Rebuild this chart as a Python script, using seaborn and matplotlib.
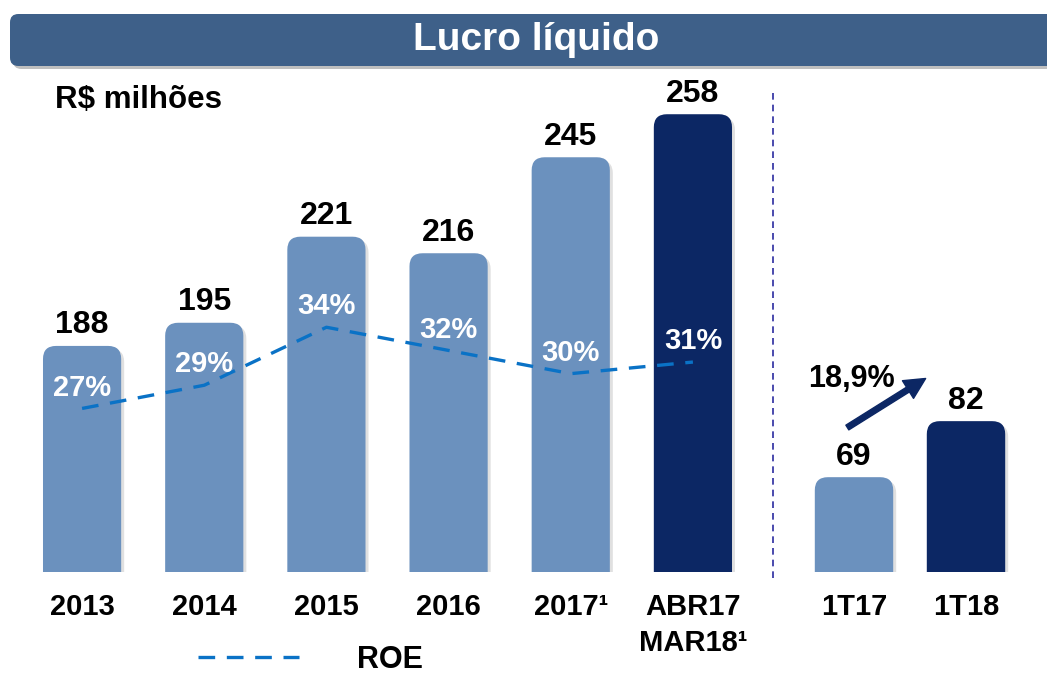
import numpy as np
import pandas as pd
import matplotlib
matplotlib.use("Agg")
import matplotlib.pyplot as plt
from matplotlib.patches import FancyBboxPatch, FancyArrowPatch
from matplotlib.lines import Line2D
import seaborn as sns

# ---- data ----
periods = ["2013", "2014", "2015", "2016", "2017¹", "ABR17\nMAR18¹"]
profit = [188, 195, 221, 216, 245, 258]
roe = [27, 29, 34, 32, 30, 31]
roe_labels = ["27%", "29%", "34%", "32%", "30%", "31%"]
quarters = ["1T17", "1T18"]
q_profit = [69, 82]
growth_label = "18,9%"
title = "Lucro líquido"
unit_label = "R$ milhões"
legend_label = "ROE"

LIGHT = "#6B91BE"
DARK = "#0C2764"
ROE_C = "#0A72C6"

sns.set_theme(style="white")
plt.rcParams["font.family"] = ["Liberation Sans", "DejaVu Sans"]

W, H = 1047, 675
fig = plt.figure(figsize=(W / 100, H / 100), dpi=100)

def fx(px):
    return px / W

def fy(py):
    return 1 - py / H

base_py = 572
top_py = 80
ax = fig.add_axes([fx(21), fy(base_py), fx(733), (base_py - top_py) / H])
axq = fig.add_axes([fx(798), fy(base_py), fx(224), (base_py - top_py) / H])

df = pd.DataFrame({"period": periods, "profit": profit})
dq = pd.DataFrame({"period": quarters, "profit": q_profit})

sns.barplot(data=df, x="period", y="profit", hue="period", saturation=1,
            palette=[LIGHT] * 5 + [DARK], legend=False, ax=ax, width=0.64)
sns.barplot(data=dq, x="period", y="profit", hue="period", saturation=1,
            palette=[LIGHT, DARK], legend=False, ax=axq, width=0.70)
ax.set_xlim(-0.5, len(periods) - 0.5)
axq.set_xlim(-0.5, len(quarters) - 0.5)

ylo, px_per = 119.7, 3.31
ax.set_ylim(ylo, ylo + (base_py - top_py) / px_per)
qlo, qpx = 47.0, 4.31
axq.set_ylim(qlo, qlo + (base_py - top_py) / qpx)

def round_bars(a, xunit_px, yunit_px):
    for p in list(a.patches):
        x, w, h = p.get_x(), p.get_width(), p.get_height()
        y0 = a.get_ylim()[0] - 50
        r = 13 / xunit_px
        asp = (13 / yunit_px) / r
        sh = FancyBboxPatch((x + 3 / xunit_px, y0), w, h - y0 - 3 / yunit_px,
                            boxstyle=f"round,pad=0,rounding_size={r}",
                            mutation_aspect=asp, fc="#000000", ec="none",
                            alpha=0.12, zorder=1)
        a.add_patch(sh)
        fb = FancyBboxPatch((x, y0), w, h - y0,
                            boxstyle=f"round,pad=0,rounding_size={r}",
                            mutation_aspect=asp, fc=p.get_facecolor(),
                            ec="none", zorder=2)
        a.add_patch(fb)
        p.set_visible(False)

for a in (ax, axq):
    for c in a.containers:
        a.bar_label(c, fmt="%d", padding=4,
                    fontsize=23, fontweight="bold", color="black")

round_bars(ax, 122, px_per)
round_bars(axq, 112, qpx)

for a in (ax, axq):
    a.set_xlabel("")
    a.set_ylabel("")
    a.set_yticks([])
    for s in a.spines.values():
        s.set_visible(False)
    a.tick_params(axis="x", length=0, pad=15)
    for t in a.get_xticklabels():
        t.set_fontweight("bold")
        t.set_fontsize(21)
        t.set_color("black")
        t.set_linespacing(1.35)
    a.patch.set_alpha(0)

# ROE line on twin axis
ax2 = ax.twinx()
sns.lineplot(x=np.arange(len(roe)), y=roe, ax=ax2, color=ROE_C,
             linewidth=2.4, linestyle=(0, (5, 3.5)), zorder=5)
rlo, rpx = 12.9, 11.6
ax2.set_ylim(rlo, rlo + (base_py - top_py) / rpx)
ax2.set_yticks([])
for s in ax2.spines.values():
    s.set_visible(False)
ax2.set_xlim(ax.get_xlim())
for i, (v, lab) in enumerate(zip(roe, roe_labels)):
    ax2.annotate(lab, (i, v), xytext=(0, 15), textcoords="offset points",
                 ha="center", va="center", color="white", fontsize=21,
                 fontweight="bold", zorder=6)

# growth arrow
arr = FancyArrowPatch((fx(845), fy(429)), (fx(928), fy(377)),
                      transform=fig.transFigure,
                      arrowstyle="simple,head_length=15,head_width=15,tail_width=4",
                      mutation_scale=1, fc=DARK, ec=DARK, zorder=5)
fig.add_artist(arr)
fig.text(fx(851), fy(379), growth_label, ha="center", va="center",
         fontsize=22, fontweight="bold", color="black")

# separator
fig.add_artist(Line2D([fx(773), fx(773)], [fy(93), fy(580)],
                      transform=fig.transFigure, color="#2B2BA0",
                      linewidth=1.2, linestyle=(0, (4, 3))))

# title banner
shadow = FancyBboxPatch((fx(13), fy(69)), 1.0, 52 / H,
                        boxstyle="round,pad=0,rounding_size=0.008",
                        transform=fig.transFigure, fc="#000000", ec="none",
                        alpha=0.25, mutation_aspect=W / H)
fig.add_artist(shadow)
banner = FancyBboxPatch((fx(10), fy(66)), 1.0, 52 / H,
                        boxstyle="round,pad=0,rounding_size=0.008",
                        transform=fig.transFigure, fc="#3E6089", ec="none",
                        mutation_aspect=W / H)
fig.add_artist(banner)
fig.text(fx(536), fy(40), title, ha="center", va="center", color="white",
         fontsize=28, fontweight="bold")

fig.text(fx(55), fy(100), unit_label, ha="left", va="center",
         fontsize=22.5, fontweight="bold", color="black")

# legend
h = ax2.get_lines()[0]
fig.legend([h], [legend_label], loc="center left",
           bbox_to_anchor=(fx(174), fy(660)), frameon=False,
           prop={"weight": "bold", "size": 22}, handlelength=3.3,
           handletextpad=1.9, borderpad=0.3, labelcolor="black")

fig.savefig("out.png", dpi=100)
